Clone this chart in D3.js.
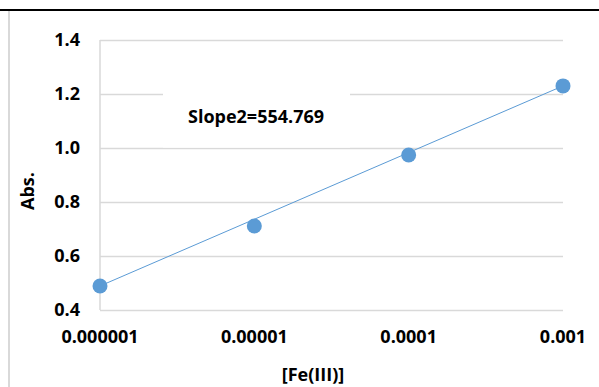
<!DOCTYPE html>
<html>
<head>
<meta charset="utf-8">
<script src="https://cdn.jsdelivr.net/npm/d3@7"></script>
<style>
  body { margin: 0; background: #fff; }
  svg text { font-family: "Open Sans", "Liberation Sans", sans-serif; font-weight: bold; fill: #000; }
</style>
</head>
<body>
<div id="chart"></div>
<script>
// data
const concentrations = [0.000001, 0.00001, 0.0001, 0.001];
const xTickLabels = ["0.000001", "0.00001", "0.0001", "0.001"];
const absorbance = [0.489, 0.711, 0.974, 1.230];
const yTicks = [0.4, 0.6, 0.8, 1.0, 1.2, 1.4];
const slopeLabel = "Slope2=554.769";

(function(){
	const svgWidth = 599, svgHeight = 387;
	const margin = {top: 40, right: 36, bottom: 77, left: 100};
	const width = svgWidth - margin.left - margin.right;
	const height = svgHeight - margin.top - margin.bottom;
	const fs = 18;

	const svg = d3.select("#chart").append("svg")
		.attr("width", svgWidth).attr("height", svgHeight);

	// outer frame: black rule on top, grey edge on left
	svg.append("line").attr("x1", 0).attr("x2", svgWidth).attr("y1", 10).attr("y2", 10)
		.attr("stroke", "#000").attr("stroke-width", 2);
	svg.append("line").attr("x1", 9).attr("x2", 9).attr("y1", 11).attr("y2", svgHeight)
		.attr("stroke", "#d9d9d9").attr("stroke-width", 2);

	const x = d3.scaleLog().domain([1e-6, 1e-3]).range([0, width]);
	const y = d3.scaleLinear().domain([0.4, 1.4]).range([height, 0]);

	const g = svg.append("g").attr("transform", `translate(${margin.left},${margin.top})`);

	// horizontal gridlines
	g.append("g").call(d3.axisLeft(y).tickValues(yTicks).tickSize(-width).tickFormat(""))
		.call(a => a.select(".domain").remove())
		.call(a => a.selectAll("line").attr("stroke", "#d9d9d9").attr("stroke-width", 1.5));

	// y axis line
	g.append("line").attr("x1", 0).attr("x2", 0).attr("y1", 0).attr("y2", height)
		.attr("stroke", "#d9d9d9").attr("stroke-width", 1.5);

	// y tick labels
	g.selectAll(".ylab").data(yTicks).enter().append("text")
		.attr("x", -20).attr("y", d => y(d)).attr("dy", "0.35em")
		.attr("text-anchor", "end").attr("font-size", fs)
		.text(d => d.toFixed(1));

	// x tick labels
	g.selectAll(".xlab").data(concentrations).enter().append("text")
		.attr("x", d => x(d)).attr("y", height + 27).attr("dy", "0.35em")
		.attr("text-anchor", "middle").attr("font-size", fs)
		.text((d, i) => xTickLabels[i]);

	// label box for slope
	g.append("rect").attr("x", 63).attr("y", 45).attr("width", 187).attr("height", 62.5).attr("fill", "#fff");
	g.append("text").attr("x", 156).attr("y", 77).attr("dy", "0.35em")
		.attr("text-anchor", "middle").attr("font-size", fs).text(slopeLabel);

	// trend line through first and last point
	const n = concentrations.length - 1;
	g.append("line")
		.attr("x1", x(concentrations[0])).attr("y1", y(absorbance[0]))
		.attr("x2", x(concentrations[n])).attr("y2", y(absorbance[n]))
		.attr("stroke", "#5b9bd5").attr("stroke-width", 1);

	// points
	g.selectAll("circle").data(concentrations).enter().append("circle")
		.attr("cx", d => x(d)).attr("cy", (d, i) => y(absorbance[i])).attr("r", 7.5)
		.attr("fill", "#5b9bd5");

	// axis titles
	svg.append("text").attr("x", 313).attr("y", 375).attr("dy", "0.35em")
		.attr("text-anchor", "middle").attr("font-size", fs).text("[Fe(III)]");
	svg.append("text").attr("transform", "translate(28,191) rotate(-90)").attr("dy", "0.35em")
		.attr("text-anchor", "middle").attr("font-size", fs).text("Abs.");
})();
</script>
</body>
</html>
